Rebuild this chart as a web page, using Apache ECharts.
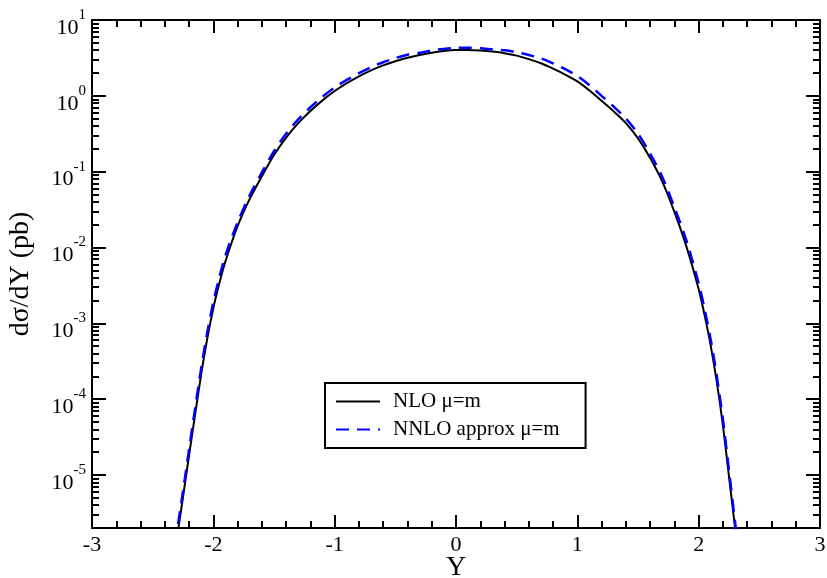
<!DOCTYPE html>
<html>
<head>
<meta charset="utf-8">
<script src="https://cdn.jsdelivr.net/npm/echarts@6/dist/echarts.min.js"></script>
<style>
  html, body { margin: 0; padding: 0; background: #fff; }
  #chart { width: 827px; height: 578px; }
</style>
</head>
<body>
<div id="chart"></div>
<script>
// rapidity values
const rapidity = [
  -2.32, -2.29, -2.25, -2.2, -2.15, -2.1, -2.05, -2.0, -1.95, -1.9, -1.8, -1.7, -1.6, -1.5,
  -1.4, -1.3, -1.2, -1.1, -1.0, -0.9, -0.8, -0.7, -0.6, -0.5, -0.4, -0.3, -0.2, -0.1, 0,
  0.1, 0.2, 0.3, 0.4, 0.5, 0.6, 0.7, 0.8, 0.9, 1.0, 1.1, 1.2, 1.3, 1.4, 1.5, 1.6, 1.7,
  1.8, 1.9, 2.0, 2.05, 2.1, 2.15, 2.2, 2.25, 2.3, 2.32
];

// dsigma/dY (pb), NLO mu=m
const nlo = [
  1.0e-6, 1.9e-6, 5.1e-6, 1.82e-5, 6.3e-5, 2.14e-4, 6.3e-4, 1.58e-3, 3.39e-3, 6.6e-3, 0.0191, 0.0437, 0.0871, 0.166,
  0.282, 0.437, 0.631, 0.871, 1.156, 1.47, 1.81, 2.17, 2.52, 2.86, 3.17, 3.45, 3.70, 3.89, 4.01,
  4.03, 3.96, 3.83, 3.65, 3.39, 3.05, 2.69, 2.29, 1.91, 1.55, 1.175, 0.861, 0.624, 0.437, 0.275, 0.151, 0.0741,
  0.0295, 0.0102, 2.82e-3, 1.26e-3, 5.0e-4, 1.66e-4, 4.47e-5, 9.5e-6, 2.0e-6, 1.07e-6
];

// NNLO approx mu=m
const nnlo = [
  1.2e-6, 2.3e-6, 6.1e-6, 2.18e-5, 7.6e-5, 2.57e-4, 7.6e-4, 1.90e-3, 4.07e-3, 7.9e-3, 0.0214, 0.0489, 0.0976, 0.186,
  0.316, 0.489, 0.707, 0.976, 1.29, 1.62, 1.99, 2.39, 2.77, 3.15, 3.49, 3.69, 3.96, 4.16, 4.29,
  4.31, 4.24, 4.10, 3.98, 3.75, 3.45, 3.12, 2.68, 2.25, 1.82, 1.38, 1.00, 0.72, 0.502, 0.316, 0.173, 0.0852,
  0.0339, 0.0122, 3.38e-3, 1.51e-3, 6.0e-4, 1.99e-4, 5.4e-5, 1.14e-5, 2.4e-6, 1.28e-6
];

const yMin = 2e-6;
const yMax = 10;
const majorTicks = [1e-5, 1e-4, 1e-3, 1e-2, 1e-1, 1, 10];
const minorTicks = [];
for (let e = -6; e <= 0; e++) {
  for (let m = 2; m <= 9; m++) {
    const v = +(m * Math.pow(10, e)).toPrecision(3);
    if (v >= yMin && v <= yMax) minorTicks.push(v);
  }
}

const font = '"Liberation Serif", "DejaVu Serif", serif';
const black = '#000';

function pairs(ys) {
  return rapidity.map((x, i) => [x, ys[i]]);
}

function exponent(v) {
  return Math.round(Math.log10(v));
}

function xAxisDef(position, showLabel) {
  return {
    type: 'value',
    position: position,
    min: -3,
    max: 3,
    interval: 1,
    name: showLabel ? 'Y' : '',
    nameLocation: 'middle',
    nameGap: 26,
    nameMoveOverlap: false,
    nameTextStyle: { fontFamily: font, fontSize: 28, color: black },
    axisLine: { show: true, onZero: false, lineStyle: { color: black, width: 2 } },
    axisTick: { show: true, inside: true, length: 13, lineStyle: { color: black, width: 2 } },
    minorTick: { show: true, splitNumber: 5, length: 7, lineStyle: { color: black, width: 2 } },
    axisLabel: { show: showLabel, margin: 6, fontFamily: font, fontSize: 22, color: black },
    splitLine: { show: false },
    minorSplitLine: { show: false }
  };
}

// label: 'base' draws "10" (with an invisible exponent for width), 'sup' draws the exponent
function yAxisDef(position, ticks, len, label, withLine, withName) {
  let axisLabel = { show: false };
  if (label === 'base') {
    axisLabel = {
      show: true,
      customValues: majorTicks,
      margin: 6,
      fontFamily: font,
      fontSize: 22,
      color: black,
      verticalAlign: 'top',
      lineHeight: 16,
      formatter: function (v) { return '10{h|' + exponent(v) + '}'; },
      rich: {
        h: { fontFamily: font, fontSize: 15, lineHeight: 16, color: 'rgba(0,0,0,0)' }
      }
    };
  } else if (label === 'sup') {
    axisLabel = {
      show: true,
      customValues: majorTicks,
      margin: 6,
      fontFamily: font,
      fontSize: 15,
      color: black,
      verticalAlign: 'bottom',
      lineHeight: 10,
      formatter: function (v) { return String(exponent(v)); }
    };
  }
  return {
    type: 'log',
    logBase: 10,
    position: position,
    min: yMin,
    max: yMax,
    name: withName ? 'dσ/dY (pb)' : '',
    nameLocation: 'middle',
    nameGap: 57,
    nameMoveOverlap: false,
    nameTextStyle: { fontFamily: font, fontSize: 28, color: black },
    axisLine: { show: withLine, onZero: false, lineStyle: { color: black, width: 2 } },
    axisTick: {
      show: true, inside: true, length: len, customValues: ticks,
      lineStyle: { color: black, width: 2 }
    },
    minorTick: { show: false },
    axisLabel: axisLabel,
    splitLine: { show: false },
    minorSplitLine: { show: false }
  };
}

const chart = echarts.init(document.getElementById('chart'), null, { renderer: 'canvas' });

chart.setOption({
  animation: false,
  backgroundColor: '#fff',
  grid: { left: 92, right: 7, top: 20, bottom: 50, containLabel: false, outerBoundsMode: 'none' },
  legend: {
    left: 325,
    top: 383,
    orient: 'vertical',
    itemWidth: 44,
    itemHeight: 14,
    itemGap: 7,
    padding: [8, 26, 8, 10],
    borderColor: black,
    borderWidth: 2,
    borderRadius: 0,
    backgroundColor: '#fff',
    itemStyle: { opacity: 0 },
    textStyle: { fontFamily: font, fontSize: 21, color: black, padding: [0, 0, 0, 8] },
    data: ['NLO μ=m', 'NNLO approx μ=m']
  },
  xAxis: [xAxisDef('bottom', true), xAxisDef('top', false)],
  yAxis: [
    yAxisDef('left', majorTicks, 14, 'base', true, true),
    yAxisDef('left', minorTicks, 7, 'sup', false, false),
    yAxisDef('right', majorTicks, 14, null, true, false),
    yAxisDef('right', minorTicks, 7, null, false, false)
  ],
  series: [
    {
      name: 'NLO μ=m',
      type: 'line',
      data: pairs(nlo),
      smooth: 0.3,
      symbol: 'none',
      showSymbol: false,
      clip: true,
      lineStyle: { color: black, width: 2 },
      itemStyle: { color: black }
    },
    {
      name: 'NNLO approx μ=m',
      type: 'line',
      data: pairs(nnlo),
      smooth: 0.3,
      symbol: 'none',
      showSymbol: false,
      clip: true,
      lineStyle: { color: '#0000ff', width: 2.5, type: [13, 8] },
      itemStyle: { color: '#0000ff' }
    }
  ]
});
</script>
</body>
</html>
